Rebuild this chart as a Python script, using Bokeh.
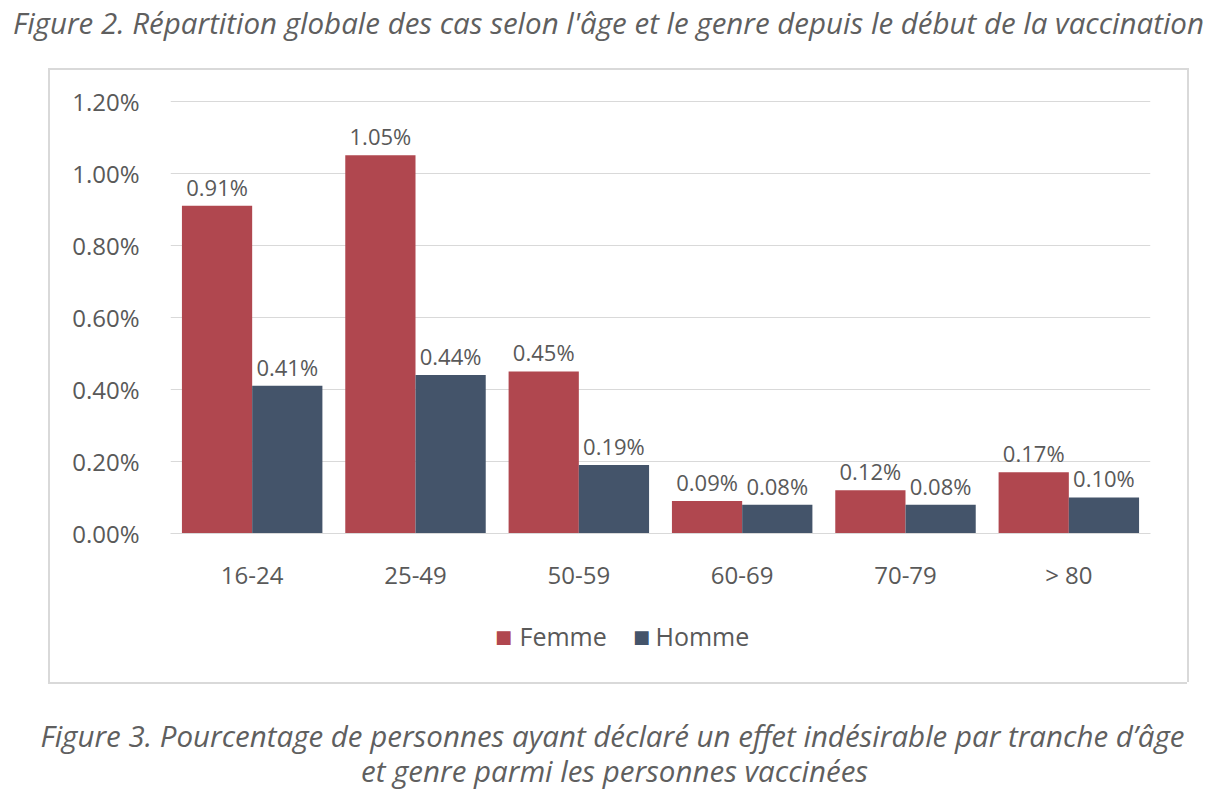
from bokeh.plotting import figure
from bokeh.models import (ColumnDataSource, FactorRange, Range1d, NumeralTickFormatter,
                          LabelSet, Label, FixedTicker)
from bokeh.transform import dodge
from bokeh.core.properties import value
from bokeh.embed import file_html
from bokeh.resources import INLINE

categories = ["16-24", "25-49", "50-59", "60-69", "70-79", "> 80"]
femme = [0.0091, 0.0105, 0.0045, 0.0009, 0.0012, 0.0017]
homme = [0.0041, 0.0044, 0.0019, 0.0008, 0.0008, 0.0010]
series_names = ["Femme", "Homme"]
y_ticks = [0.0, 0.002, 0.004, 0.006, 0.008, 0.010, 0.012]
title_text = "Figure 2. Répartition globale des cas selon l'âge et le genre depuis le début de la vaccination"
caption_lines = ["Figure 3. Pourcentage de personnes ayant déclaré un effet indésirable par tranche d’âge",
                 "et genre parmi les personnes vaccinées"]

FEMME_COLOR = "#b0474f"
HOMME_COLOR = "#44546a"
TEXT_COLOR = "#595959"
CAP_COLOR = "#5f5f5f"
GRID_COLOR = "#d9d9d9"
FONT = "Open Sans"

W, H = 1208, 792
FL, FR, FT, FB = 170, 1150, 100, 533      # plot-area edges (px)
Y_END = 0.01202
CAT_W = (FR - FL) / len(categories)


def px_x(px):
    return (px - FL) / CAT_W


def px_y(py):
    return (FB - py) / (FB - FT) * Y_END


src = ColumnDataSource(dict(
    cat=categories,
    femme=femme,
    homme=homme,
    femme_lbl=[f"{v:.2%}" for v in femme],
    homme_lbl=[f"{v:.2%}" for v in homme],
))

# chart box drawn as a CSS frame behind the (transparent) border area
bx0, by0, bx1, by1 = 48, 68, 1187, 682
g = "linear-gradient(#d9d9d9,#d9d9d9)"
box_styles = {
    "background-color": "white",
    "background-image": ", ".join([g] * 4),
    "background-size": f"{bx1 - bx0}px 2px, {bx1 - bx0}px 2px, 2px {by1 - by0}px, 2px {by1 - by0}px",
    "background-position": f"{bx0}px {by0}px, {bx0}px {by1}px, {bx0}px {by0}px, {bx1}px {by0}px",
    "background-repeat": "no-repeat",
}

p = figure(width=W, height=H, x_range=FactorRange(*categories, range_padding=0),
           y_range=Range1d(0, Y_END), output_backend="svg", toolbar_location=None,
           min_border_left=FL, min_border_right=W - FR, min_border_top=FT, min_border_bottom=H - FB,
           styles=box_styles)
p.outline_line_color = None
p.border_fill_alpha = 0
p.background_fill_color = "white"

rf = p.vbar(x=dodge("cat", -0.215, range=p.x_range), top="femme", width=0.43, source=src,
            fill_color=FEMME_COLOR, line_color=None)
rh = p.vbar(x=dodge("cat", 0.215, range=p.x_range), top="homme", width=0.43, source=src,
            fill_color=HOMME_COLOR, line_color=None)

for col, off in (("femme", -0.215), ("homme", 0.215)):
    ls = LabelSet(x=dodge("cat", off, range=p.x_range), y=col, text=col + "_lbl", source=src,
                  y_offset=4, text_align="center", text_baseline="bottom",
                  text_font=value(FONT), text_font_size="22px", text_color=TEXT_COLOR)
    p.add_layout(ls)

p.xaxis.axis_line_color = GRID_COLOR
p.xaxis.major_tick_line_color = None
p.xaxis.minor_tick_line_color = None
p.xaxis.major_label_text_font = FONT
p.xaxis.major_label_text_font_size = "24px"
p.xaxis.major_label_text_color = TEXT_COLOR
p.xaxis.major_label_standoff = 18
p.xgrid.grid_line_color = None

p.yaxis.ticker = FixedTicker(ticks=y_ticks)
p.yaxis.formatter = NumeralTickFormatter(format="0.00%")
p.yaxis.axis_line_color = None
p.yaxis.major_tick_line_color = None
p.yaxis.minor_tick_line_color = None
p.yaxis.major_label_text_font = FONT
p.yaxis.major_label_text_font_size = "24px"
p.yaxis.major_label_text_color = TEXT_COLOR
p.yaxis.major_label_standoff = 25
p.ygrid.ticker = FixedTicker(ticks=y_ticks)
p.ygrid.grid_line_color = GRID_COLOR
p.ygrid.grid_line_width = 1

# legend: colour swatches + names, placed below the axis
for name, color, mx, tx in zip(series_names, (FEMME_COLOR, HOMME_COLOR), (503, 641), (519, 655)):
    p.add_layout(Label(x=px_x(mx), y=px_y(636), text="■", text_align="center",
                       text_baseline="middle", text_font="DejaVu Sans", text_font_size="18px",
                       text_color=color), "left")
    p.add_layout(Label(x=px_x(tx), y=px_y(635), text=name, text_align="left",
                       text_baseline="middle", text_font=FONT, text_font_size="25px",
                       text_color=TEXT_COLOR), "below")

p.add_layout(Label(x=px_x(608), y=px_y(22), text=title_text, text_align="center",
                   text_baseline="middle", text_font=FONT, text_font_style="italic",
                   text_font_size="29.5px", text_color=CAP_COLOR), "above")
for line, cx, cy in zip(caption_lines, (612, 614), (735, 770)):
    p.add_layout(Label(x=px_x(cx), y=px_y(cy), text=line, text_align="center",
                       text_baseline="middle", text_font=FONT, text_font_style="italic",
                       text_font_size="29.5px", text_color=CAP_COLOR), "below")

open("out.html", "w").write(file_html(p, INLINE))
